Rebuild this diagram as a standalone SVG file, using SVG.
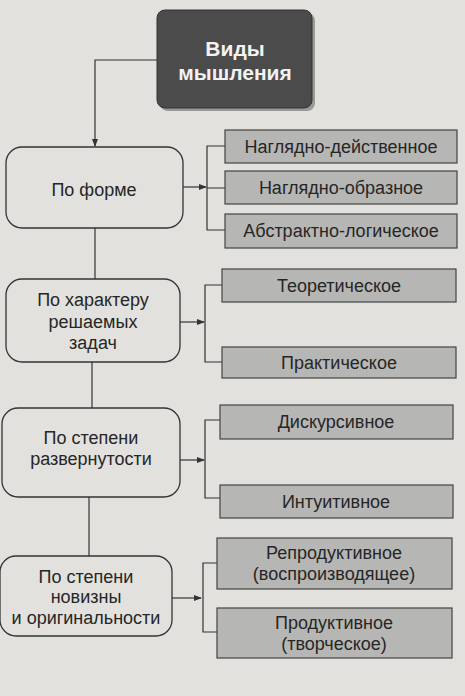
<svg xmlns="http://www.w3.org/2000/svg" width="465" height="696" viewBox="0 0 465 696">
<defs>
<marker id="ah" markerWidth="8" markerHeight="6" refX="7" refY="3" orient="auto" markerUnits="userSpaceOnUse">
<path d="M0,0 L8,3 L0,6 Z" fill="#333"/>
</marker>
</defs>
<style>
text{font-family:"Liberation Sans",Arial,sans-serif;font-size:18px;fill:#262626;text-anchor:middle}
.cat{fill:#e2e1de;stroke:#333;stroke-width:1.3}
.leaf{fill:#b6b6b4;stroke:#444;stroke-width:1.2}
.ln{fill:none;stroke:#333;stroke-width:1.2}
.title{font-weight:bold;font-size:21px;fill:#f2f2f2}
</style>
<rect width="465" height="696" fill="#e2e1de"/>
<g id="root">
<rect x="160" y="13" width="155" height="98" rx="8" fill="#9a9a98"/>
<rect x="157" y="10" width="155" height="98" rx="8" fill="#4b4b4b" stroke="#333"/>
<text class="title" x="235" y="56">Виды</text>
<text class="title" x="235" y="80">мышления</text>
</g>
<g id="connectors">
<path class="ln" d="M157,60 H95 V146" marker-end="url(#ah)"/>
<path class="ln" d="M95,228 V279"/>
<path class="ln" d="M92,362 V408"/>
<path class="ln" d="M89,497 V556"/>
<path class="ln" d="M183,187 H206" marker-end="url(#ah)"/>
<path class="ln" d="M225,146 H207 V230 H225 M207,188 H225"/>
<path class="ln" d="M180,322 H204" marker-end="url(#ah)"/>
<path class="ln" d="M222,285 H205 V362 H222"/>
<path class="ln" d="M180,460 H204" marker-end="url(#ah)"/>
<path class="ln" d="M220,420 H205 V498 H220"/>
<path class="ln" d="M172,598 H201" marker-end="url(#ah)"/>
<path class="ln" d="M217,563 H203 V632 H217"/>
</g>
<g id="form">
<rect class="cat" x="6" y="147" width="177" height="81" rx="16"/>
<text x="94" y="196">По форме</text>
</g>
<g id="form1"><rect class="leaf" x="225" y="130" width="232" height="33"/><text x="341" y="153">Наглядно-действенное</text></g>
<g id="form2"><rect class="leaf" x="225" y="171" width="232" height="33"/><text x="341" y="194">Наглядно-образное</text></g>
<g id="form3"><rect class="leaf" x="225" y="214" width="232" height="34"/><text x="341" y="237">Абстрактно-логическое</text></g>
<g id="task">
<rect class="cat" x="6" y="279" width="174" height="83" rx="16"/>
<text x="93" y="306">По характеру</text>
<text x="93" y="328">решаемых</text>
<text x="93" y="349">задач</text>
</g>
<g id="task1"><rect class="leaf" x="222" y="269" width="234" height="33"/><text x="339" y="292">Теоретическое</text></g>
<g id="task2"><rect class="leaf" x="222" y="347" width="234" height="31"/><text x="339" y="369">Практическое</text></g>
<g id="deploy">
<rect class="cat" x="2" y="408" width="178" height="89" rx="16"/>
<text x="91" y="444">По степени</text>
<text x="91" y="465">развернутости</text>
</g>
<g id="deploy1"><rect class="leaf" x="220" y="405" width="233" height="34"/><text x="336" y="428">Дискурсивное</text></g>
<g id="deploy2"><rect class="leaf" x="220" y="485" width="233" height="33"/><text x="336" y="508">Интуитивное</text></g>
<g id="novelty">
<rect class="cat" x="0" y="556" width="172" height="80" rx="16"/>
<text x="86" y="583">По степени</text>
<text x="86" y="603">новизны</text>
<text x="86" y="624">и оригинальности</text>
</g>
<g id="novelty1"><rect class="leaf" x="217" y="538" width="235" height="51"/><text x="334" y="559">Репродуктивное</text><text x="334" y="580">(воспроизводящее)</text></g>
<g id="novelty2"><rect class="leaf" x="217" y="608" width="235" height="50"/><text x="334" y="629">Продуктивное</text><text x="334" y="650">(творческое)</text></g>
</svg>
